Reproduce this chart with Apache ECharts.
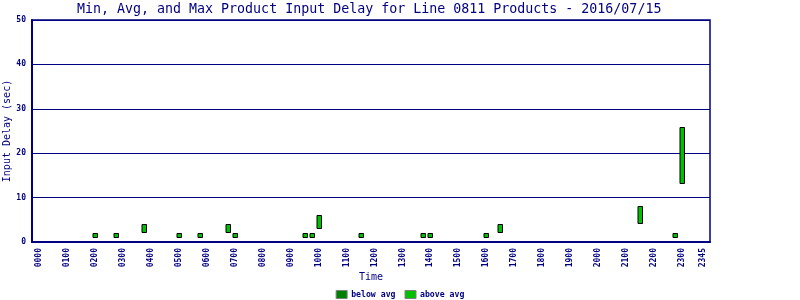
<!DOCTYPE html>
<html>
<head>
<meta charset="utf-8">
<script src="https://cdn.jsdelivr.net/npm/echarts@6/dist/echarts.min.js"></script>
<style>html,body{margin:0;padding:0;background:#fff}#c{width:800px;height:300px}</style>
</head>
<body>
<div id="c"></div>
<script>
// Data
var times = ['0200','0245','0345','0500','0545','0645','0700','0930','0945','1000','1130','1345','1400','1600','1630','2130','2245','2300'];
var minDelay = [1,1,2,1,1,2,1,1,1,3,1,1,1,1,2,4,1,13];
var avgDelay = [1,1,2,1,1,2,1,1,1,3,1,1,1,1,2,4,1,13];
var maxDelay = [2,2,4,2,2,4,2,2,2,6,2,2,2,2,4,8,2,26];
var yTicks = [0,10,20,30,40,50];
var titleText = 'Min, Avg, and Max Product Input Delay for Line 0811 Products - 2016/07/15';

var NAVY = '#000080';
var FONT = 'DejaVu Sans Mono';

function toHour(t){ return parseInt(t.slice(0,2),10) + parseInt(t.slice(2),10)/60; }
var xs = times.map(toHour);
var belowData = xs.map(function(x,i){ return [x, minDelay[i], avgDelay[i]]; });
var aboveData = xs.map(function(x,i){ return [x, avgDelay[i], maxDelay[i]]; });

function pad(n){ return (n<10?'0':'')+n; }

function renderRange(params, api){
  var lo = api.value(1), hi = api.value(2);
  if (hi <= lo) return null;
  var p1 = api.coord([api.value(0), lo]);
  var p2 = api.coord([api.value(0), hi]);
  var w = 4;
  var x = Math.round(p1[0] - w/2) + 0.5;
  var yTop = Math.round(p2[1]) + 0.5;
  var yBot = Math.round(p1[1]) - 0.5;
  return {
    type: 'rect',
    shape: { x: x - 0.5, y: yTop, width: w + 0.5, height: yBot - yTop },
    style: { fill: api.visual('color'), stroke: '#000', lineWidth: 1 }
  };
}

var chart = echarts.init(document.getElementById('c'), null, {renderer:'canvas'});
chart.setOption({
  animation: false,
  backgroundColor: '#fff',
  title: {
    text: titleText,
    left: 72, top: -2,
    textStyle: { fontFamily: FONT, fontSize: 13.3, fontWeight: 'normal', color: NAVY }
  },
  legend: {
    bottom: -4, left: 'center',
    data: [
      { name: 'below avg', itemStyle: { color: '#008000', borderColor: '#808080', borderWidth: 1 } },
      { name: 'above avg', itemStyle: { color: '#00c000', borderColor: '#808080', borderWidth: 1 } }
    ],
    icon: 'rect', itemWidth: 11, itemHeight: 8, itemGap: 9,
    textStyle: { fontFamily: FONT, fontSize: 8.2, fontWeight: 'bold', color: NAVY, padding: [0,0,0,-1] }
  },
  grid: { left: 32, right: 90, top: 20, bottom: 58, containLabel: false, outerBoundsMode: 'none',
          show: true, borderColor: NAVY, borderWidth: 1.5, backgroundColor: 'transparent' },
  xAxis: {
    type: 'value', min: -0.25, max: 24, interval: 0.25,
    name: 'Time', nameLocation: 'middle', nameGap: 30, nameMoveOverlap: false,
    nameTextStyle: { fontFamily: FONT, fontSize: 10, color: NAVY },
    axisLine: { show: true, onZero: false, lineStyle: { color: NAVY, width: 2 } },
    axisTick: { show: false },
    splitLine: { show: false },
    axisLabel: {
      rotate: 90, margin: 6, fontFamily: FONT, fontSize: 8, fontWeight: 'bold', color: NAVY,
      formatter: function(v){
        if (Math.abs(v-23.75)<0.01) return '2345';
        if (v < -0.01 || v > 23.9) return '';
        if (Math.abs(v-Math.round(v))<0.01) return pad(Math.round(v))+'00';
        return '';
      }
    }
  },
  yAxis: {
    type: 'value', min: yTicks[0], max: yTicks[yTicks.length-1], interval: 10,
    name: 'Input Delay (sec)', nameLocation: 'middle', nameGap: 20, nameRotate: 90, nameMoveOverlap: false,
    nameTextStyle: { fontFamily: FONT, fontSize: 10, color: NAVY },
    axisLine: { show: true, onZero: false, lineStyle: { color: NAVY, width: 2 } },
    axisTick: { show: false },
    splitLine: { show: true, lineStyle: { color: NAVY, width: 1 } },
    axisLabel: { margin: 6, fontFamily: FONT, fontSize: 8, fontWeight: 'bold', color: NAVY }
  },
  series: [
    { name: 'below avg', type: 'custom', renderItem: renderRange, data: belowData,
      encode: { x: 0, y: [1, 2] }, itemStyle: { color: '#008000' } },
    { name: 'above avg', type: 'custom', renderItem: renderRange, data: aboveData,
      encode: { x: 0, y: [1, 2] }, itemStyle: { color: '#00c000' } }
  ]
});
</script>
</body>
</html>
